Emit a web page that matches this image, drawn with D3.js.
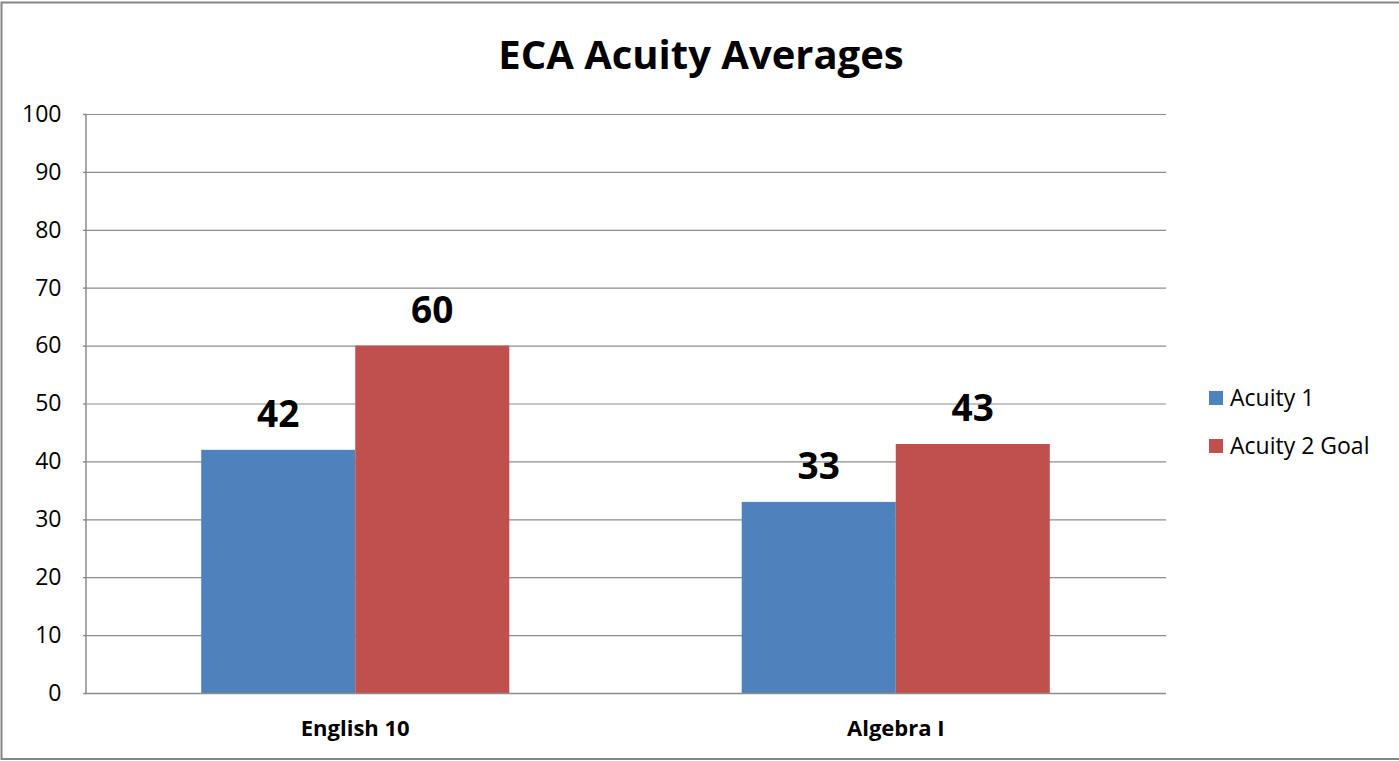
<!DOCTYPE html>
<html><head><meta charset="utf-8">
<script src="https://cdnjs.cloudflare.com/ajax/libs/d3/7.8.5/d3.min.js"></script>
<style>body{margin:0;background:#fff}svg{display:block}</style>
</head><body>
<svg id="c" width="1399" height="761"></svg>
<script>
const title = "ECA Acuity Averages";
const categories = ["English 10", "Algebra I"];
const seriesNames = ["Acuity 1", "Acuity 2 Goal"];
const acuity1 = [42, 33];
const acuity2Goal = [60, 43];
const yTicks = [0, 10, 20, 30, 40, 50, 60, 70, 80, 90, 100];
const colors = ["#4F81BD", "#C0504D"];

(function() {
const series = [acuity1, acuity2Goal];
const svg = d3.select("#c");
const font = "'Open Sans', sans-serif";

// outer border
svg.append("rect").attr("x", 1.5).attr("y", 2.5).attr("width", 1420).attr("height", 756.5)
  .attr("fill", "none").attr("stroke", "#868686").attr("stroke-width", 2);

const pL = 85, pR = 1166, pT = 114, pB = 693;
const y = d3.scaleLinear().domain([0, 100]).range([pB, pT]);
const x0 = d3.scaleBand().domain(categories).range([pL, pR]).paddingInner(0.43).paddingOuter(0.215);
const x1 = d3.scaleBand().domain(seriesNames).range([0, x0.bandwidth()]);

// gridlines
svg.append("g").selectAll("line").data(yTicks.filter(d => d > 0)).join("line")
  .attr("x1", pL - 2).attr("x2", pR).attr("y1", d => y(d) + 0.5).attr("y2", d => y(d) + 0.5)
  .attr("stroke", "#8c8c8c").attr("stroke-width", 1.2);

// y axis
const ya = svg.append("g").attr("transform", `translate(${pL + 0.5},0)`)
  .call(d3.axisLeft(y).tickValues(yTicks).tickSize(2).tickPadding(22));
ya.select(".domain").attr("stroke", "#8c8c8c").attr("stroke-width", 1.5);
ya.selectAll(".tick line").attr("stroke", "#8c8c8c");
ya.selectAll("text").attr("font-family", font).attr("font-size", 23).attr("fill", "#000");

// bars
const groups = svg.append("g").selectAll("g").data(categories).join("g")
  .attr("transform", d => `translate(${x0(d)},0)`);
groups.each(function(cat, ci) {
  const g = d3.select(this);
  seriesNames.forEach((s, si) => {
    const v = series[si][ci];
    g.append("rect").attr("x", x1(s)).attr("y", y(v)).attr("width", x1.bandwidth())
      .attr("height", y(0) - y(v)).attr("fill", colors[si]);
    g.append("text").attr("x", x1(s) + x1.bandwidth() / 2).attr("y", y(v) - 23)
      .attr("text-anchor", "middle").attr("font-family", font).attr("font-weight", "bold")
      .attr("font-size", 37).attr("fill", "#000").text(v);
  });
});

// x axis line
svg.append("line").attr("x1", pL).attr("x2", pR).attr("y1", pB + 0.5).attr("y2", pB + 0.5)
  .attr("stroke", "#8c8c8c").attr("stroke-width", 1.5);
// category labels
svg.append("g").selectAll("text").data(categories).join("text")
  .attr("x", d => x0(d) + x0.bandwidth() / 2).attr("y", 736)
  .attr("text-anchor", "middle").attr("font-family", font).attr("font-weight", "bold")
  .attr("font-size", 22).attr("fill", "#000").text(d => d);

// title
svg.append("text").attr("x", 701).attr("y", 69).attr("text-anchor", "middle")
  .attr("font-family", font).attr("font-weight", "bold").attr("font-size", 40).attr("fill", "#000").text(title);

// legend
const lg = svg.append("g").selectAll("g").data(seriesNames).join("g")
  .attr("transform", (d, i) => `translate(1209,${391 + i * 48})`);
lg.append("rect").attr("width", 14).attr("height", 14).attr("fill", (d, i) => colors[i]);
lg.append("text").attr("x", 21).attr("y", 15).attr("font-family", font).attr("font-size", 23)
  .attr("fill", "#000").text(d => d);
})();
</script>
</body></html>
